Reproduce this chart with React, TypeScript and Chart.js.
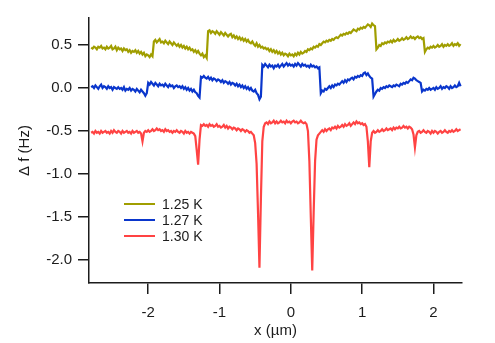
import { useEffect, useRef } from "react";
import { Chart, registerables } from "chart.js";

Chart.register(...registerables);

// Scan positions: x = X_START + i * X_STEP (µm)
const X_START = -2.8;
const X_STEP = 0.02;

const X_TICKS = [-2, -1, 0, 1, 2];
const Y_TICKS = [0.5, 0, -0.5, -1, -1.5, -2];

const SERIES_LABELS = ["1.25 K", "1.27 K", "1.30 K"];
const SERIES_COLORS = ["#a09e00", "#0a36cc", "#ff4343"];

// Δf (Hz) at 1.25 K
const DF_125K = [
  0.47, 0.46, 0.48, 0.47, 0.45, 0.48, 0.47, 0.49, 0.46, 0.47,
  0.45, 0.48, 0.46, 0.47, 0.49, 0.45, 0.46, 0.48, 0.44, 0.47,
  0.45, 0.46, 0.43, 0.46, 0.44, 0.45, 0.42, 0.44, 0.41, 0.43,
  0.42, 0.44, 0.41, 0.43, 0.40, 0.42, 0.39, 0.41, 0.37, 0.39,
  0.38, 0.36, 0.39, 0.37, 0.54, 0.56, 0.53, 0.55, 0.57, 0.53,
  0.54, 0.52, 0.55, 0.53, 0.51, 0.54, 0.52, 0.50, 0.53, 0.51,
  0.49, 0.51, 0.48, 0.50, 0.47, 0.49, 0.46, 0.48, 0.45, 0.47,
  0.44, 0.45, 0.42, 0.44, 0.41, 0.43, 0.40, 0.38, 0.40, 0.36,
  0.38, 0.35, 0.66, 0.67, 0.64, 0.66, 0.65, 0.63, 0.66, 0.64,
  0.62, 0.65, 0.63, 0.61, 0.64, 0.62, 0.60, 0.62, 0.63, 0.59,
  0.61, 0.58, 0.60, 0.57, 0.59, 0.56, 0.58, 0.55, 0.57, 0.54,
  0.56, 0.53, 0.52, 0.54, 0.51, 0.49, 0.52, 0.48, 0.50, 0.47,
  0.48, 0.46, 0.47, 0.45, 0.46, 0.43, 0.45, 0.42, 0.44, 0.41,
  0.43, 0.40, 0.42, 0.39, 0.41, 0.38, 0.40, 0.39, 0.37, 0.40,
  0.38, 0.39, 0.37, 0.40, 0.38, 0.41, 0.39, 0.42, 0.40, 0.41,
  0.43, 0.42, 0.45, 0.44, 0.46, 0.45, 0.48, 0.47, 0.49, 0.48,
  0.51, 0.50, 0.52, 0.54, 0.53, 0.55, 0.54, 0.56, 0.55, 0.57,
  0.56, 0.58, 0.59, 0.58, 0.60, 0.62, 0.61, 0.63, 0.62, 0.64,
  0.63, 0.65, 0.64, 0.66, 0.68, 0.67, 0.66, 0.69, 0.68, 0.70,
  0.69, 0.71, 0.70, 0.72, 0.74, 0.73, 0.71, 0.75, 0.73, 0.72,
  0.45, 0.47, 0.50, 0.49, 0.52, 0.51, 0.53, 0.52, 0.54, 0.53,
  0.55, 0.53, 0.56, 0.54, 0.55, 0.57, 0.55, 0.56, 0.58, 0.56,
  0.57, 0.59, 0.57, 0.58, 0.60, 0.58, 0.59, 0.57, 0.59, 0.60,
  0.58, 0.59, 0.57, 0.58, 0.42, 0.45, 0.47, 0.46, 0.48, 0.47,
  0.49, 0.47, 0.48, 0.50, 0.48, 0.49, 0.51, 0.48, 0.50, 0.49,
  0.51, 0.49, 0.50, 0.52, 0.49, 0.51, 0.50, 0.52, 0.49, 0.51,
];

// Δf (Hz) at 1.27 K
const DF_127K = [
  0.01, 0.02, 0.00, 0.03, 0.01, -0.01, 0.02, 0.04, 0.00, 0.02,
  0.01, -0.01, 0.02, 0.00, 0.01, -0.02, 0.01, 0.00, -0.01, 0.01,
  -0.01, 0.00, -0.02, 0.01, -0.03, -0.01, -0.02, 0.00, -0.03, -0.01,
  -0.02, -0.04, -0.01, -0.03, -0.05, -0.02, -0.04, -0.06, -0.09, -0.06,
  0.06, 0.04, 0.07, 0.05, 0.03, 0.06, 0.04, 0.02, 0.05, 0.03,
  0.04, 0.02, 0.05, 0.03, 0.01, 0.04, 0.02, 0.03, 0.00, 0.02,
  0.03, 0.01, 0.02, 0.00, 0.02, -0.01, 0.01, -0.02, 0.00, -0.03,
  -0.01, -0.04, -0.02, -0.05, -0.06, -0.09, -0.11, 0.13, 0.12, 0.14,
  0.12, 0.11, 0.13, 0.10, 0.12, 0.09, 0.11, 0.10, 0.08, 0.10,
  0.09, 0.07, 0.09, 0.06, 0.08, 0.07, 0.05, 0.07, 0.04, 0.06,
  0.05, 0.03, 0.05, 0.02, 0.04, 0.01, 0.03, 0.00, 0.02, -0.01,
  0.01, -0.02, 0.00, -0.03, -0.04, -0.02, -0.06, -0.08, -0.13, -0.10,
  0.27, 0.25, 0.28, 0.26, 0.24, 0.27, 0.25, 0.26, 0.23, 0.26,
  0.25, 0.27, 0.24, 0.26, 0.28, 0.25, 0.27, 0.29, 0.26, 0.28,
  0.26, 0.27, 0.25, 0.28, 0.26, 0.29, 0.27, 0.25, 0.28, 0.26,
  0.27, 0.25, 0.26, 0.24, 0.27, 0.25, 0.26, 0.24, 0.25, 0.23,
  0.24, -0.06, -0.03, -0.04, -0.01, -0.02, 0.00, 0.02, 0.00, 0.03,
  0.01, 0.04, 0.03, 0.05, 0.04, 0.06, 0.08, 0.06, 0.09, 0.07,
  0.10, 0.09, 0.11, 0.12, 0.10, 0.13, 0.12, 0.14, 0.13, 0.15,
  0.14, 0.17, 0.18, 0.15, 0.17, 0.14, 0.12, 0.11, -0.10, -0.07,
  -0.04, -0.02, -0.03, 0.00, -0.01, 0.01, 0.00, 0.02, 0.01, 0.03,
  0.02, 0.01, 0.03, 0.02, 0.04, 0.03, 0.02, 0.05, 0.04, 0.06,
  0.05, 0.07, 0.06, 0.08, 0.10, 0.09, 0.12, 0.11, 0.09, 0.08,
  0.07, 0.06, -0.04, -0.02, -0.03, -0.01, -0.02, 0.00, -0.02, -0.01,
  0.00, -0.02, 0.01, -0.01, 0.00, 0.02, -0.01, 0.01, 0.00, 0.02,
  0.01, -0.01, 0.02, 0.00, 0.01, 0.03, 0.01, 0.02, 0.06, 0.02,
];

// Δf (Hz) at 1.30 K
const DF_130K = [
  -0.52, -0.51, -0.53, -0.50, -0.52, -0.51, -0.53, -0.50, -0.52, -0.51,
  -0.50, -0.52, -0.51, -0.53, -0.50, -0.52, -0.49, -0.51, -0.52, -0.50,
  -0.51, -0.53, -0.50, -0.52, -0.51, -0.50, -0.52, -0.51, -0.53, -0.50,
  -0.52, -0.51, -0.50, -0.52, -0.51, -0.53, -0.62, -0.52, -0.50, -0.51,
  -0.49, -0.51, -0.50, -0.48, -0.50, -0.49, -0.47, -0.49, -0.48, -0.50,
  -0.49, -0.51, -0.48, -0.50, -0.49, -0.51, -0.50, -0.52, -0.50, -0.51,
  -0.49, -0.51, -0.52, -0.50, -0.51, -0.53, -0.50, -0.52, -0.51, -0.53,
  -0.51, -0.52, -0.53, -0.56, -0.72, -0.89, -0.60, -0.43, -0.44, -0.42,
  -0.44, -0.43, -0.45, -0.42, -0.44, -0.43, -0.45, -0.44, -0.42, -0.45,
  -0.44, -0.46, -0.45, -0.43, -0.46, -0.44, -0.47, -0.45, -0.46, -0.48,
  -0.46, -0.47, -0.49, -0.47, -0.48, -0.50, -0.48, -0.49, -0.51, -0.49,
  -0.50, -0.52, -0.51, -0.53, -0.55, -0.64, -0.88, -1.45, -2.09, -1.30,
  -0.62, -0.45, -0.41, -0.40, -0.42, -0.39, -0.41, -0.40, -0.38, -0.41,
  -0.39, -0.41, -0.40, -0.38, -0.40, -0.39, -0.41, -0.38, -0.40, -0.39,
  -0.41, -0.39, -0.38, -0.40, -0.39, -0.41, -0.40, -0.38, -0.40, -0.41,
  -0.40, -0.42, -0.50, -0.85, -1.50, -2.12, -1.45, -0.85, -0.60, -0.55,
  -0.53, -0.51, -0.49, -0.51, -0.48, -0.50, -0.48, -0.47, -0.49, -0.46,
  -0.47, -0.45, -0.47, -0.44, -0.46, -0.45, -0.43, -0.45, -0.42, -0.44,
  -0.43, -0.41, -0.44, -0.42, -0.40, -0.42, -0.39, -0.41, -0.40, -0.42,
  -0.41, -0.43, -0.42, -0.45, -0.62, -0.92, -0.62, -0.52, -0.50, -0.52,
  -0.51, -0.49, -0.51, -0.50, -0.48, -0.50, -0.49, -0.47, -0.49, -0.48,
  -0.47, -0.49, -0.46, -0.48, -0.46, -0.47, -0.45, -0.47, -0.46, -0.44,
  -0.46, -0.45, -0.47, -0.45, -0.46, -0.48, -0.54, -0.69, -0.55, -0.51,
  -0.50, -0.52, -0.51, -0.49, -0.51, -0.52, -0.50, -0.51, -0.53, -0.50,
  -0.52, -0.50, -0.51, -0.53, -0.51, -0.50, -0.52, -0.51, -0.49, -0.51,
  -0.52, -0.50, -0.51, -0.49, -0.51, -0.50, -0.48, -0.50, -0.49, -0.48,
];

const SERIES = [DF_125K, DF_127K, DF_130K];

const FONT_FAMILY = '"Liberation Sans", Arial, Helvetica, sans-serif';
const INK = "#1c1c1c";

const toPoints = (values: number[]) =>
  values.map((y, i) => ({ x: +(X_START + i * X_STEP).toFixed(2), y }));

// Legend drawn inside the plot, lower-left
const insideLegend = {
  id: "insideLegend",
  afterDraw(chart: any) {
    const { ctx, chartArea } = chart;
    ctx.save();
    ctx.font = `14px ${FONT_FAMILY}`;
    ctx.textBaseline = "middle";
    ctx.textAlign = "left";
    chart.data.datasets.forEach((ds: any, k: number) => {
      const y = chartArea.top + 186 + k * 16;
      const x0 = chartArea.left + 35;
      ctx.strokeStyle = ds.borderColor;
      ctx.lineWidth = 2;
      ctx.beginPath();
      ctx.moveTo(x0, y);
      ctx.lineTo(x0 + 31, y);
      ctx.stroke();
      ctx.fillStyle = INK;
      ctx.fillText(ds.label, x0 + 38, y + 1);
    });
    ctx.restore();
  },
};

export default function App() {
  const canvasRef = useRef<HTMLCanvasElement | null>(null);

  useEffect(() => {
    const canvas = canvasRef.current;
    if (!canvas) return;
    const chart = new Chart(canvas, {
      type: "line",
      data: {
        datasets: SERIES.map((values, k) => ({
          label: SERIES_LABELS[k],
          data: toPoints(values),
          borderColor: SERIES_COLORS[k],
          backgroundColor: SERIES_COLORS[k],
          borderWidth: 2.2,
          pointRadius: 0,
          tension: 0,
          fill: false,
        })),
      },
      options: {
        responsive: false,
        animation: false,
        layout: { padding: { left: 0, right: 33, top: 18, bottom: 0 } },
        plugins: {
          legend: { display: false },
          tooltip: { enabled: false },
        },
        scales: {
          x: {
            type: "linear",
            min: -2.83,
            max: 2.4,
            afterBuildTicks: (scale: any) => {
              scale.ticks = X_TICKS.map((value) => ({ value }));
            },
            afterFit: (scale: any) => {
              scale.height = 60;
            },
            grid: {
              drawOnChartArea: false,
              drawTicks: true,
              tickLength: 11,
              color: INK,
              lineWidth: 1.5,
            },
            border: { display: true, color: INK, width: 1.5 },
            ticks: {
              color: INK,
              font: { family: FONT_FAMILY, size: 15 },
              padding: 10,
              maxRotation: 0,
              callback: (v: any) => String(v),
            },
            title: {
              display: true,
              text: "x (µm)",
              color: INK,
              font: { family: FONT_FAMILY, size: 15 },
              padding: { top: 0, bottom: 3 },
            },
          },
          y: {
            type: "linear",
            min: -2.267,
            max: 0.814,
            afterBuildTicks: (scale: any) => {
              scale.ticks = Y_TICKS.map((value) => ({ value }));
            },
            afterFit: (scale: any) => {
              scale.width = 89;
            },
            grid: {
              drawOnChartArea: false,
              drawTicks: true,
              tickLength: 11,
              color: INK,
              lineWidth: 1.5,
            },
            border: { display: true, color: INK, width: 1.5 },
            ticks: {
              color: INK,
              font: { family: FONT_FAMILY, size: 15 },
              padding: 6,
              callback: (v: any) => Number(v).toFixed(1),
            },
            title: {
              display: true,
              text: "Δ f (Hz)",
              color: INK,
              font: { family: FONT_FAMILY, size: 15 },
              padding: { top: 16, bottom: 0 },
            },
          },
        },
      },
      plugins: [insideLegend],
    });
    return () => chart.destroy();
  }, []);

  return (
    <div style={{ position: "absolute", left: 0, top: 0, width: 495, height: 343, background: "#fff" }}>
      <canvas ref={canvasRef} width={495} height={343} style={{ width: 495, height: 343, display: "block" }} />
    </div>
  );
}
